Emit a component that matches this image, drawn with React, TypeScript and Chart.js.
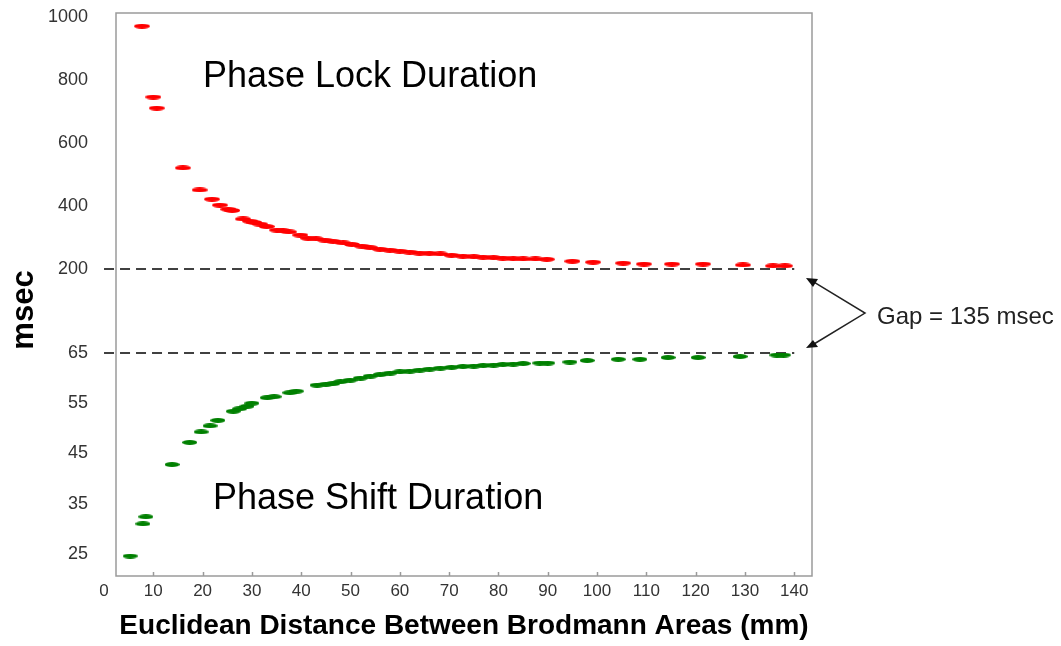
import React, { useEffect, useRef } from "react";
import { Chart, registerables } from "chart.js";

Chart.register(...registerables);

// ---------- data ----------
const phaseLockX = [7.7, 10.0, 10.7, 16.0, 19.4, 21.9, 23.5, 25.2, 26.0, 28.2, 29.6, 30.5, 31.6, 33.0, 35.1, 36.3, 37.5, 39.8, 41.4, 43.0, 44.8, 46.5, 48.5, 50.3, 52.3, 54.0, 56.0, 58.0, 60.0, 62.0, 64.0, 66.0, 68.2, 70.5, 72.8, 75.0, 76.9, 79.0, 80.9, 83.0, 85.0, 87.5, 89.8, 95.0, 99.2, 105.3, 109.5, 115.2, 121.5, 129.6, 135.7, 138.1];
const phaseLockMs = [971, 746, 711, 521, 451, 422, 403, 390, 386, 359, 352, 348, 343, 335, 324, 321, 318, 308, 298, 296, 292, 288, 283, 278, 273, 268, 263, 260, 257, 254, 251, 250, 248, 244, 241, 239, 238, 236, 235, 233, 232, 232, 231, 225, 222, 219, 216, 216, 216, 213, 210, 210];

const phaseShiftX = [5.3, 7.9, 8.5, 13.8, 17.4, 19.7, 21.5, 23.1, 26.2, 27.5, 29.0, 30.0, 33.1, 34.5, 37.7, 39.0, 43.2, 45.0, 46.4, 48.0, 49.9, 52.0, 54.0, 56.0, 58.0, 60.0, 62.0, 64.0, 66.0, 68.2, 70.5, 72.8, 75.0, 76.9, 79.0, 80.9, 83.0, 85.0, 88.4, 90.0, 94.5, 98.0, 104.3, 108.7, 114.4, 120.5, 129.0, 136.5, 137.8];
const phaseShiftMs = [24.6, 31.0, 32.4, 42.8, 47.2, 49.3, 50.5, 51.6, 53.4, 53.9, 54.4, 55.0, 56.1, 56.3, 57.1, 57.4, 58.6, 58.8, 58.9, 59.3, 59.6, 60.0, 60.4, 60.7, 61.0, 61.25, 61.4, 61.6, 61.8, 62.0, 62.15, 62.3, 62.4, 62.5, 62.6, 62.7, 62.8, 62.9, 63.0, 63.0, 63.2, 63.5, 63.75, 63.75, 64.1, 64.1, 64.3, 64.6, 64.6];

const xTickValues = [0, 10, 20, 30, 40, 50, 60, 70, 80, 90, 100, 110, 120, 130, 140];
const yTickValues = [25, 35, 45, 55, 65, 200, 400, 600, 800, 1000];
const yTickLabels = ["25", "35", "45", "55", "65", "200", "400", "600", "800", "1000"];

const referenceLineMs = [200, 65];
const referenceLineX = [0, 140];

const lockLabel = "Phase Lock Duration";
const shiftLabel = "Phase Shift Duration";
const gapLabel = "Gap = 135 msec";
const xTitle = "Euclidean Distance Between Brodmann Areas (mm)";
const yTitle = "msec";

// ---------- broken (two-segment) y axis ----------
const BREAK_LOW = 65;
const BREAK_HIGH = 200;
const GAP_UNITS = 16.7;
const UPPER_FACTOR = 0.0627;
function toAxis(v: number): number {
  if (v <= BREAK_LOW) return v;
  if (v >= BREAK_HIGH) return BREAK_LOW + GAP_UNITS + (v - BREAK_HIGH) * UPPER_FACTOR;
  return BREAK_LOW + ((v - BREAK_LOW) / (BREAK_HIGH - BREAK_LOW)) * GAP_UNITS;
}

const FONT = "'Liberation Sans', Arial, sans-serif";

function makeEllipse(color: string, w: number, h: number): HTMLCanvasElement {
  const c = document.createElement("canvas");
  c.width = w;
  c.height = h;
  const ctx = c.getContext("2d")!;
  ctx.fillStyle = color;
  ctx.beginPath();
  ctx.ellipse(w / 2, h / 2, w / 2, h / 2, 0, 0, Math.PI * 2);
  ctx.fill();
  return c;
}

const decorPlugin = {
  id: "decor",
  afterDraw(chart: any) {
    const { ctx, chartArea, scales } = chart;
    const xs = scales.x;
    const ys = scales.y;
    ctx.save();
    // plot frame
    ctx.strokeStyle = "#9a9a9a";
    ctx.lineWidth = 1.5;
    ctx.strokeRect(chartArea.left, chartArea.top, chartArea.right - chartArea.left, chartArea.bottom - chartArea.top);
    // inner x tick marks
    ctx.beginPath();
    xTickValues.forEach((v) => {
      if (v < xs.min || v > xs.max) return;
      const px = Math.round(xs.getPixelForValue(v)) + 0.5;
      ctx.moveTo(px, chartArea.bottom);
      ctx.lineTo(px, chartArea.bottom - 4);
    });
    ctx.stroke();

    // y title
    ctx.fillStyle = "#000";
    ctx.font = `bold 31px ${FONT}`;
    ctx.textAlign = "center";
    ctx.textBaseline = "middle";
    ctx.save();
    ctx.translate(24, 310);
    ctx.rotate(-Math.PI / 2);
    ctx.fillText(yTitle, 0, 0);
    ctx.restore();

    // in-plot labels
    ctx.font = `36px ${FONT}`;
    ctx.textAlign = "left";
    ctx.fillText(lockLabel, chartArea.left + 87, chartArea.top + 64);
    ctx.fillText(shiftLabel, chartArea.left + 97, chartArea.top + 486);

    // gap arrows
    const right = chartArea.right;
    const yTop = ys.getPixelForValue(toAxis(200)) + 9;
    const yBot = ys.getPixelForValue(toAxis(65)) - 5;
    const apexX = right + 53;
    const apexY = (yTop + yBot) / 2;
    ctx.strokeStyle = "#222";
    ctx.lineWidth = 1.5;
    ctx.beginPath();
    ctx.moveTo(right + 2, yTop + 4);
    ctx.lineTo(apexX, apexY);
    ctx.lineTo(right + 2, yBot - 4);
    ctx.stroke();
    ctx.fillStyle = "#111";
    ctx.beginPath();
    ctx.moveTo(right - 6, yTop);
    ctx.lineTo(right + 6, yTop + 1);
    ctx.lineTo(right + 1, yTop + 9);
    ctx.closePath();
    ctx.fill();
    ctx.beginPath();
    ctx.moveTo(right - 6, yBot);
    ctx.lineTo(right + 6, yBot - 1);
    ctx.lineTo(right + 1, yBot - 8);
    ctx.closePath();
    ctx.fill();

    ctx.fillStyle = "#222";
    ctx.font = `24px ${FONT}`;
    ctx.textAlign = "left";
    ctx.textBaseline = "middle";
    ctx.fillText(gapLabel, apexX + 12, apexY + 4);
    ctx.restore();
  },
};

export default function App() {
  const canvasRef = useRef<HTMLCanvasElement | null>(null);

  useEffect(() => {
    if (!canvasRef.current) return;
    const redDot = makeEllipse("#ff0000", 16, 5);
    const greenDot = makeEllipse("#008000", 15, 5);

    const refDatasets = referenceLineMs.map((v) => ({
      label: `ref-${v}`,
      data: referenceLineX.map((x) => ({ x, y: toAxis(v) })),
      showLine: true,
      borderColor: "#404040",
      borderWidth: 2,
      borderDash: [10, 6],
      pointRadius: 0,
      clip: false as any,
      order: 1,
    }));

    const chart = new Chart(canvasRef.current, {
      type: "scatter",
      data: {
        datasets: [
          {
            label: lockLabel,
            data: phaseLockX.map((x, i) => ({ x, y: toAxis(phaseLockMs[i]) })),
            pointStyle: redDot as any,
            pointRadius: 8,
            order: 0,
          },
          {
            label: shiftLabel,
            data: phaseShiftX.map((x, i) => ({ x, y: toAxis(phaseShiftMs[i]) })),
            pointStyle: greenDot as any,
            pointRadius: 8,
            order: 0,
          },
          ...refDatasets,
        ] as any,
      },
      options: {
        responsive: false,
        animation: false,
        layout: { padding: { left: 0, top: 13, right: 249, bottom: 0 } },
        plugins: { legend: { display: false }, tooltip: { enabled: false } },
        scales: {
          x: {
            type: "linear",
            min: 2.43,
            max: 143.6,
            afterBuildTicks: (s: any) => {
              s.ticks = xTickValues.map((v) => ({ value: v }));
            },
            afterFit: (s: any) => {
              s.height = 70;
            },
            ticks: {
              autoSkip: false,
              maxRotation: 0,
              padding: 5,
              color: "#333",
              font: { size: 17, family: FONT },
              callback: (v: any) => String(v),
            },
            grid: { display: false, drawTicks: false },
            border: { display: false },
            title: {
              display: true,
              text: xTitle,
              color: "#000",
              font: { size: 28, weight: "bold", family: FONT },
              padding: { top: 0, bottom: 3 },
            },
          },
          y: {
            type: "linear",
            min: 20.62,
            max: 132.66,
            afterBuildTicks: (s: any) => {
              s.ticks = yTickValues.map((v) => ({ value: toAxis(v) }));
            },
            afterFit: (s: any) => {
              s.width = 116;
              s.paddingTop = 0;
              s.paddingBottom = 0;
            },
            ticks: {
              autoSkip: false,
              padding: 28,
              color: "#333",
              font: { size: 18, family: FONT },
              callback: (_v: any, i: number) => yTickLabels[i],
            },
            grid: { display: false, drawTicks: false },
            border: { display: false },
          },
        },
      } as any,
      plugins: [decorPlugin],
    });
    return () => chart.destroy();
  }, []);

  return (
    <div style={{ position: "absolute", left: 0, top: 0, width: 1061, height: 646, background: "#fff" }}>
      <canvas ref={canvasRef} width={1061} height={646} style={{ display: "block" }} />
    </div>
  );
}
